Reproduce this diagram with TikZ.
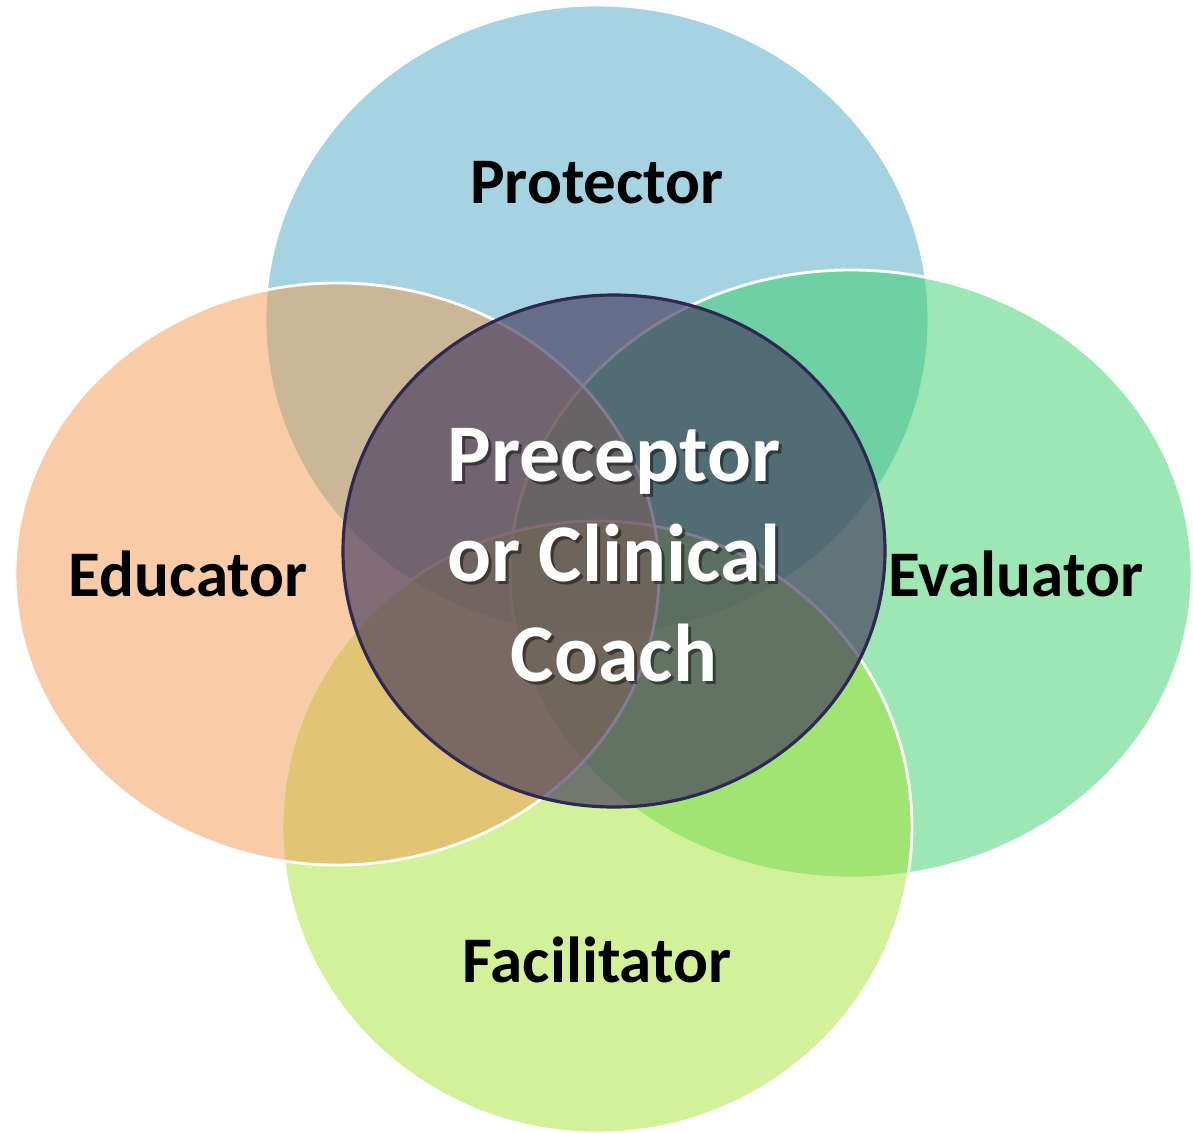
\documentclass[tikz,border=0pt]{standalone}
\usepackage{fontspec}
\setmainfont{Carlito}
\definecolor{protblue}{HTML}{4DA7C3}
\definecolor{educorange}{HTML}{F39A50}
\definecolor{evalgreen}{HTML}{39D068}
\definecolor{facilgreen}{HTML}{A5E334}
\definecolor{corefill}{HTML}{42375B}
\definecolor{coreline}{HTML}{2E2852}

\begin{document}
\begin{tikzpicture}[x=0.01cm,y=-0.01cm,
  role/.style={draw=white,line width=0.8pt,fill opacity=0.5},
  rolename/.style={font=\bfseries\fontsize{18.5}{22}\selectfont,text=black,inner sep=0pt},
  coretext/.style={font=\bfseries\fontsize{23.3}{28.4}\selectfont,align=center,inner sep=0pt}]
\useasboundingbox (0,0) rectangle (1193,1133);
\filldraw[role,fill=protblue] (597,320) ellipse [x radius=332,y radius=315];
\filldraw[role,fill=evalgreen] (851,574) ellipse [x radius=341,y radius=304];
\filldraw[role,fill=facilgreen] (597,827) ellipse [x radius=315,y radius=306];
\filldraw[role,fill=educorange] (337,574) ellipse [x radius=322,y radius=291];
\filldraw[draw=coreline,line width=0.9pt,fill=corefill,fill opacity=0.65] (614,551) ellipse [x radius=271,y radius=256];
\node[rolename] (protector) at (597,183) {Protector};
\node[rolename] (educator) at (188,574) {Educator};
\node[rolename] (evaluator) at (1016,574) {Evaluator};
\node[rolename] (facilitator) at (597,960) {Facilitator};
\node[coretext,text=black,opacity=0.45] (coreshadow) at (617,558) {Preceptor\\or Clinical\\Coach};
\node[coretext,text=white] (core) at (614,555) {Preceptor\\or Clinical\\Coach};
\end{tikzpicture}
\end{document}
